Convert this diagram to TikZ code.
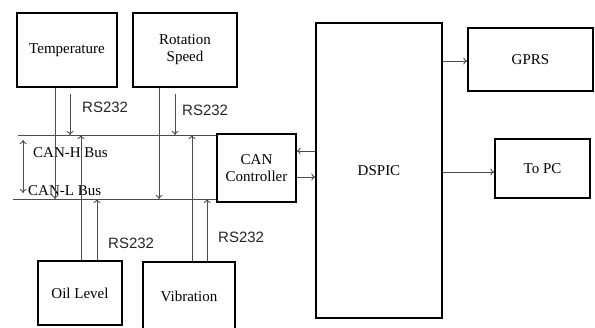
\documentclass[tikz,border=0pt]{standalone}
\usepackage{fontspec}
\setmainfont{Liberation Serif}
\newfontfamily\rsfont{Liberation Sans}
\usepackage{tikz}
\usetikzlibrary{positioning,calc,arrows.meta}

\begin{document}
\begin{tikzpicture}[x=1pt, y=-1pt,
    unitbox/.style={draw=black, line width=1.5pt, inner sep=2pt, align=center, font=\fontsize{15}{17}\selectfont},
    wire/.style={draw=black!70, line width=0.9pt},
    wirearrow/.style={wire, -{To[length=4pt,width=7pt]}},
    rslabel/.style={anchor=west, inner sep=0pt, font=\rsfont\fontsize{15}{17}\selectfont, text=black!85},
    buslabel/.style={anchor=west, inner sep=0pt, font=\fontsize{15}{17}\selectfont}]
  \clip (0,0) rectangle (595,327);
  \fill[white] (0,0) rectangle (595,327);

  % Sensor boxes
  \node[unitbox, minimum width=100pt, minimum height=74pt] (temp) at (67,50) {Temperature};
  \node[unitbox, minimum width=104pt, minimum height=74pt] (rot) at (185,50) {Rotation\\Speed};
  \node[unitbox, minimum width=84pt, minimum height=64pt] (oil) at (80,293) {Oil Level};
  \node[unitbox, minimum width=92pt, minimum height=68pt] (vib) at (189,296) {Vibration};

  % Controller and outputs
  \node[unitbox, minimum width=79pt, minimum height=68pt] (can) at (256.5,168) {CAN\\Controller};
  \node[unitbox, minimum width=126pt, minimum height=295pt] (dspic) at (379,170.5) {DSPIC};
  \node[unitbox, minimum width=125pt, minimum height=63pt] (gprs) at (530.5,59.5) {GPRS};
  \node[unitbox, minimum width=95pt, minimum height=59pt] (topc) at (542.5,168.5) {To PC};

  % Bus lines
  \coordinate (hbusL) at (18,135);
  \coordinate (lbusL) at (13,199);
  \draw[wire] (hbusL) -- (hbusL -| can.west);
  \draw[wire] (lbusL) -- (lbusL -| can.west);
  \coordinate (dTop) at ([xshift=5pt,yshift=-5pt]hbusL);
  \coordinate (dBot) at ([xshift=10pt,yshift=6pt]lbusL);
  \draw[wire, {To[length=4pt,width=7pt]}-{To[length=4pt,width=7pt]}] (dTop) -- (dBot);
  \node[buslabel] (hlab) at (33,153) {CAN-H Bus};
  \node[buslabel] (llab) at (28,191) {CAN-L Bus};

  % Temperature to bus
  \coordinate (tA) at ([xshift=-12pt]temp.south);
  \coordinate (tB) at ([xshift=3pt,yshift=-6pt]temp.south);
  \draw[wirearrow] (tA) -- (tA |- lbusL);
  \draw[wirearrow] (tB) -- (tB |- hbusL);
  \node[rslabel] (rs1) at (82,107) {RS232};

  % Rotation speed to bus
  \coordinate (rA) at ([xshift=-26pt]rot.south);
  \coordinate (rB) at ([xshift=-10pt,yshift=-6pt]rot.south);
  \draw[wirearrow] (rA) -- (rA |- lbusL);
  \draw[wirearrow] (rB) -- (rB |- hbusL);
  \node[rslabel] (rs2) at (182,110) {RS232};

  % Oil level to bus
  \coordinate (oA) at ([xshift=1pt]oil.north);
  \coordinate (oB) at ([xshift=17pt]oil.north);
  \draw[wirearrow] (oA) -- (oA |- hbusL);
  \draw[wirearrow] (oB) -- (oB |- lbusL);
  \node[rslabel] (rs3) at (108,243) {RS232};

  % Vibration to bus
  \coordinate (vA) at ([xshift=3pt]vib.north);
  \coordinate (vB) at ([xshift=18pt]vib.north);
  \draw[wirearrow] (vA) -- (vA |- hbusL);
  \draw[wirearrow] (vB) -- (vB |- lbusL);
  \node[rslabel] (rs4) at (218,237) {RS232};

  % CAN controller and DSPIC
  \coordinate (canUp) at ([yshift=17pt]can.east);
  \coordinate (canDn) at ([yshift=-9pt]can.east);
  \draw[wirearrow] (canUp -| dspic.west) -- (canUp);
  \draw[wirearrow] (canDn) -- (canDn -| dspic.west);

  % Outputs
  \coordinate (gIn) at ([yshift=-1.5pt]gprs.west);
  \coordinate (pIn) at ([yshift=-3.5pt]topc.west);
  \draw[wirearrow] (gIn -| dspic.east) -- (gIn);
  \draw[wirearrow] (pIn -| dspic.east) -- (pIn);
\end{tikzpicture}
\end{document}
